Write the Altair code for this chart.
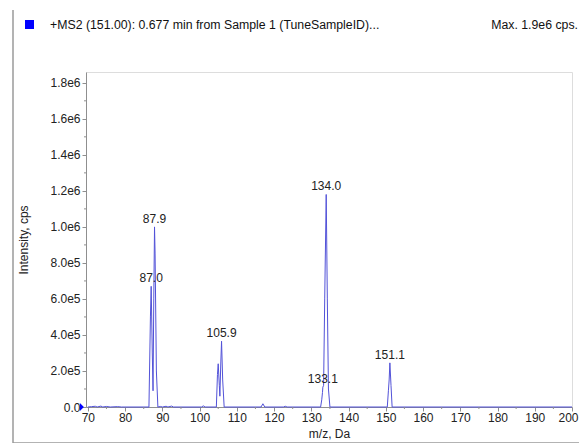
import altair as alt
import pandas as pd

# spectrum profile (m/z, intensity in cps)
mz = [70.0, 71.0, 72.0, 72.5, 73.5, 74.0, 75.0, 76.0, 78.0, 79.0,
      86.4, 86.8, 87.0, 87.3, 87.5, 87.7, 87.9, 88.05, 88.4, 88.8,
      89.5, 90.0, 91.0, 91.5, 92.5, 93.0, 100.5, 101.0, 101.5,
      104.5, 104.8, 105.0, 105.3, 105.45, 105.7, 105.9, 106.2, 106.6,
      116.5, 117.0, 117.5, 122.5, 123.0, 123.5,
      132.5, 132.8, 133.0, 133.1, 133.3, 133.6, 134.0, 134.3, 134.6, 135.0,
      150.4, 150.7, 150.9, 151.1, 151.4, 151.7, 200.0]
intensity = [0, 2e3, 4e3, 0, 5e3, 0, 3e3, 0, 2e3, 0,
             0, 5.0e5, 6.7e5, 3.0e5, 9.0e4, 6.0e5, 1.0e6, 8.5e5, 2.0e5, 0,
             3e3, 0, 4e3, 0, 5e3, 0, 0, 6e3, 0,
             0, 1.8e5, 2.4e5, 1.2e5, 6e4, 2.5e5, 3.65e5, 1.5e5, 0,
             0, 1.8e4, 0, 0, 4e3, 0,
             0, 4e4, 8e4, 1.1e5, 1.2e5, 6e5, 1.18e6, 6e5, 1e5, 0,
             0, 9e4, 1.5e5, 2.45e5, 1.2e5, 0, 0]

peak_mz = [87.0, 87.9, 105.9, 133.1, 134.0, 151.1]
peak_int = [6.7e5, 1.0e6, 3.65e5, 1.1e5, 1.18e6, 2.45e5]
peak_labels = ["87.0", "87.9", "105.9", "133.1", "134.0", "151.1"]

x_major = [70, 80, 90, 100, 110, 120, 130, 140, 150, 160, 170, 180, 190, 200]
x_minor = [75, 85, 95, 105, 115, 125, 135, 145, 155, 165, 175, 185, 195]
y_major = [0, 2e5, 4e5, 6e5, 8e5, 1e6, 1.2e6, 1.4e6, 1.6e6, 1.8e6]
y_minor = [1e5, 3e5, 5e5, 7e5, 9e5, 1.1e6, 1.3e6, 1.5e6, 1.7e6]

title_text = "+MS2 (151.00): 0.677 min from Sample 1 (TuneSampleID)..."
max_text = "Max. 1.9e6 cps."

W, H = 486, 335
FONT = "Liberation Sans"
AX = "#8f8f8f"

spec = pd.DataFrame({"mz": mz, "intensity": intensity})
peaks = pd.DataFrame({"mz": peak_mz, "intensity": peak_int, "label": peak_labels})
xmin = pd.DataFrame({"mz": x_minor})
ymin = pd.DataFrame({"intensity": y_minor})
origin = pd.DataFrame({"mz": [70.0], "intensity": [0.0]})
one = pd.DataFrame({"a": [0]})

xscale = alt.Scale(domain=[69.5, 200], nice=False, zero=False)
yscale = alt.Scale(domain=[0, 1.86e6], nice=False)

xaxis = alt.Axis(values=x_major, format="d", tickSize=4, tickColor=AX, domainColor=AX,
                 labelColor="#222222", labelFont=FONT, labelFontSize=12, labelPadding=1,
                 labelOverlap=False, labelFlush=False, labelBound=False,
                 labelOffset={"condition": {"test": "datum.value === 200", "value": -4}, "value": 0},
                 title="m/z, Da", titleFont=FONT, titleFontSize=12, titleFontWeight="normal",
                 titleColor="#222222", titlePadding=5, grid=False)
yaxis = alt.Axis(values=y_major, tickSize=4, tickColor=AX, domainColor=AX,
                 labelExpr="datum.value == 0 ? '0.0' : (datum.value < 1e6 ? format(datum.value/1e5, '.1f') + 'e5' : format(datum.value/1e6, '.1f') + 'e6')",
                 labelColor="#222222", labelFont=FONT, labelFontSize=12, labelPadding=2,
                 labelOverlap=False, labelFlush=False, labelBound=False,
                 title="Intensity, cps", titleFont=FONT, titleFontSize=12, titleFontWeight="normal",
                 titleColor="#222222", titlePadding=19, grid=False)


def X():
    return alt.X("mz:Q", scale=xscale, axis=xaxis)


def Y():
    return alt.Y("intensity:Q", scale=yscale, axis=yaxis)


line = alt.Chart(spec).mark_line(color="#5252d8", strokeWidth=1, interpolate="linear").encode(x=X(), y=Y())

xminor = alt.Chart(xmin).mark_rule(color=AX, strokeWidth=1).encode(
    x=X(), y=alt.value(H), y2=alt.value(H + 2))
yminor = alt.Chart(ymin).mark_rule(color=AX, strokeWidth=1).encode(
    y=Y(), x=alt.value(0), x2=alt.value(-2))

tri = alt.Chart(origin).mark_point(
    shape="M -1 -1 L 0 0 L -1 1 Z", filled=True, color="#0000ff", opacity=1, size=64
).encode(x=X(), y=Y(), xOffset=alt.value(-4))

labels = alt.Chart(peaks).mark_text(font=FONT, fontSize=12, color="#222222", baseline="middle", dy=-8).encode(
    x=X(), y=Y(), text="label:N")

title = alt.Chart(one).mark_text(font=FONT, fontSize=12.3, color="#111111", align="left", baseline="middle").encode(
    x=alt.value(-36), y=alt.value(-47.5), text=alt.value(title_text))
maxt = alt.Chart(one).mark_text(font=FONT, fontSize=12.3, color="#111111", align="right", baseline="middle").encode(
    x=alt.value(492), y=alt.value(-47.5), text=alt.value(max_text))
square = alt.Chart(one).mark_point(shape="square", filled=True, color="#0000ff", opacity=1, size=81).encode(
    x=alt.value(-56.5), y=alt.value(-47.5))
border = alt.Chart(one).mark_rule(color="#9a9a9a", strokeWidth=1.5).encode(
    x=alt.value(-73), y=alt.value(-62), y2=alt.value(371))
border_b = alt.Chart(one).mark_rule(color="#9a9a9a", strokeWidth=1.5).encode(
    x=alt.value(-73), x2=alt.value(493), y=alt.value(371))

chart = alt.layer(line, xminor, yminor, tri, labels, title, maxt, square, border, border_b).properties(
    width=W, height=H,
    autosize=alt.AutoSizeParams(type="none"),
    padding={"left": 78, "top": 64, "right": 7, "bottom": 36},
).configure_view(strokeWidth=0, stroke="transparent").configure(background="white")

chart.save("out.html", embed_options={"renderer": "svg", "actions": False})
